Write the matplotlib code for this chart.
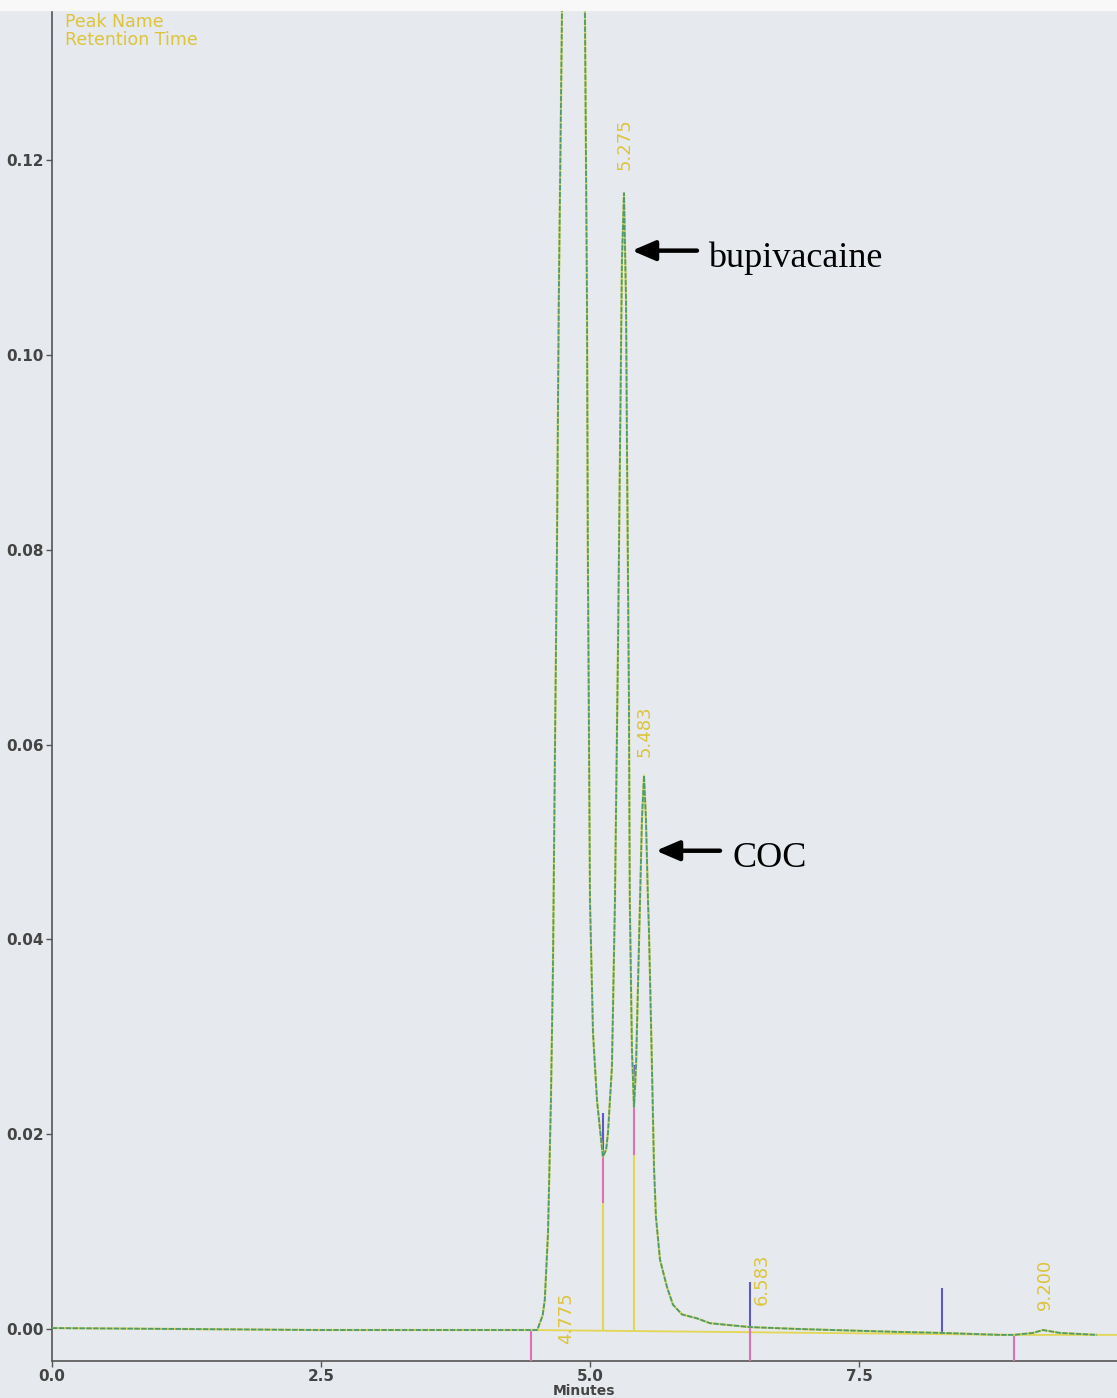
import numpy as np
import matplotlib.pyplot as plt
from matplotlib.patches import Rectangle

# chromatogram trace (minutes, AU)
time_min = [0.0, 1.25, 2.5, 3.75, 4.45, 4.51, 4.56, 4.58, 4.61, 4.637, 4.656, 4.675,
            4.693, 4.71, 4.74, 4.76, 4.85, 4.94, 4.953, 4.972, 4.98, 5.0, 5.028, 5.065,
            5.11, 5.12, 5.15, 5.167, 5.204, 5.232, 5.26, 5.279, 5.297, 5.316, 5.335,
            5.344, 5.362, 5.37, 5.39, 5.409, 5.428, 5.465, 5.483, 5.502, 5.52, 5.539,
            5.548, 5.576, 5.595, 5.613, 5.651, 5.716, 5.771, 5.855, 5.994, 6.115,
            6.487, 6.952, 7.881, 8.271, 8.81, 8.941, 9.117, 9.21, 9.368, 9.712]
absorb = [0.0001, 0.0, -0.0001, -0.0001, -0.0001, -0.0001, 0.0014, 0.003, 0.0099,
          0.0235, 0.0372, 0.060, 0.080, 0.1056, 0.1354, 0.16, 0.30, 0.16, 0.1354,
          0.1056, 0.080, 0.044, 0.0304, 0.0235, 0.0187, 0.0177, 0.0184, 0.0201,
          0.0269, 0.044, 0.0697, 0.0902, 0.1097, 0.1166, 0.1056, 0.0902, 0.0646,
          0.044, 0.0286, 0.0228, 0.0269, 0.044, 0.0524, 0.0568, 0.0524, 0.044,
          0.041, 0.0269, 0.0166, 0.0115, 0.0071, 0.0043, 0.0025, 0.0015, 0.0011,
          0.0006, 0.0002, 0.0, -0.0003, -0.0004, -0.0006, -0.0006, -0.0004, -0.0001,
          -0.0004, -0.0006]

# integration baseline
base_x = [4.45, 8.94, 9.9]
base_y = [-0.0001, -0.0006, -0.0006]

# peak start/stop event marks
blue_x = [5.12, 5.41, 6.49, 8.27]
blue_top = [0.0222, 0.0271, 0.0048, 0.0042]
blue_bot = [0.0177, 0.0228, 0.0002, -0.0004]
pink_x = [4.45, 5.12, 5.41, 6.49, 8.94]
pink_top = [-0.0001, 0.0177, 0.0228, 0.0002, -0.0006]
pink_bot = [-0.004, 0.0129, 0.0179, -0.004, -0.004]
drop_x = [5.12, 5.41]
drop_top = [0.0129, 0.0179]

# retention time labels
rt_text = ["4.775", "5.275", "5.483", "6.583", "9.200"]
rt_x = [4.777, 5.325, 5.511, 6.598, 9.229]
rt_y = [0.0011, 0.1216, 0.0614, 0.0051, 0.0046]

bg = "#e6e9ed"
fig = plt.figure(figsize=(11.17, 13.98), dpi=100, facecolor=bg)
ax = fig.add_axes([52 / 1117, 37 / 1398, 1 - 52 / 1117, 1351 / 1398])
ax.set_facecolor(bg)
fig.add_artist(Rectangle((0, 1 - 10 / 1398), 1, 10 / 1398, transform=fig.transFigure,
                         color="#f8f8f8", zorder=10))

ax.set_xlim(0, 9.898)
ax.set_ylim(-0.00328, 0.1354)

ax.plot(base_x, base_y, color="#e2d654", lw=1.3, zorder=2)
ax.vlines(drop_x, -0.0001, drop_top, color="#e2d654", lw=1.5, zorder=2)
ax.vlines(pink_x, pink_bot, pink_top, color="#e070b4", lw=1.5, zorder=3)
ax.vlines(blue_x, blue_bot, blue_top, color="#6058c8", lw=1.5, zorder=3)

ax.plot(time_min, absorb, color="#d8d860", lw=1.6, zorder=4)
ax.plot(time_min, absorb, color="#4f9a6e", lw=1.3, dashes=(3, 0.8), zorder=5)

for t, x, y in zip(rt_text, rt_x, rt_y):
    ax.text(x, y, t, rotation=90, ha="center", va="center", color="#dcc43c",
            fontsize=13, zorder=6)

ax.text(0.012, 0.998, "Peak Name\nRetention Time", transform=ax.transAxes,
        ha="left", va="top", color="#dcc43c", fontsize=12.5, linespacing=1.0)

# annotations
arrow_style = dict(arrowstyle="-|>,head_length=0.7,head_width=0.3",
                   lw=3.2, color="black", mutation_scale=20, shrinkA=0, shrinkB=0)
ax.annotate("", xy=(5.39, 0.1107), xytext=(5.994, 0.1107), arrowprops=arrow_style)
ax.text(6.097, 0.1099, "bupivacaine", fontsize=26, family="Liberation Serif",
        ha="left", va="center", color="black")
ax.annotate("", xy=(5.613, 0.0491), xytext=(6.208, 0.0491), arrowprops=arrow_style)
ax.text(6.329, 0.0483, "COC", fontsize=26, family="Liberation Serif",
        ha="left", va="center", color="black")

ax.set_yticks([0.0, 0.02, 0.04, 0.06, 0.08, 0.10, 0.12])
ax.set_yticklabels(["0.00", "0.02", "0.04", "0.06", "0.08", "0.10", "0.12"])
ax.set_xticks([0.0, 2.5, 5.0, 7.5])
ax.set_xticklabels(["0.0", "2.5", "5.0", "7.5"])
ax.tick_params(axis="both", direction="out", length=4, width=1, color="#555555",
               labelsize=11, labelcolor="#444444", pad=2)
for lab in ax.get_xticklabels() + ax.get_yticklabels():
    lab.set_fontweight("bold")

ax.set_xlabel("Minutes", fontsize=10, fontweight="bold", color="#444444", labelpad=0)

for s in ["top", "right"]:
    ax.spines[s].set_visible(False)
for s in ["left", "bottom"]:
    ax.spines[s].set_color("#555555")
    ax.spines[s].set_linewidth(1.2)

plt.savefig("out.png", dpi=100, facecolor=bg)
plt.close()
